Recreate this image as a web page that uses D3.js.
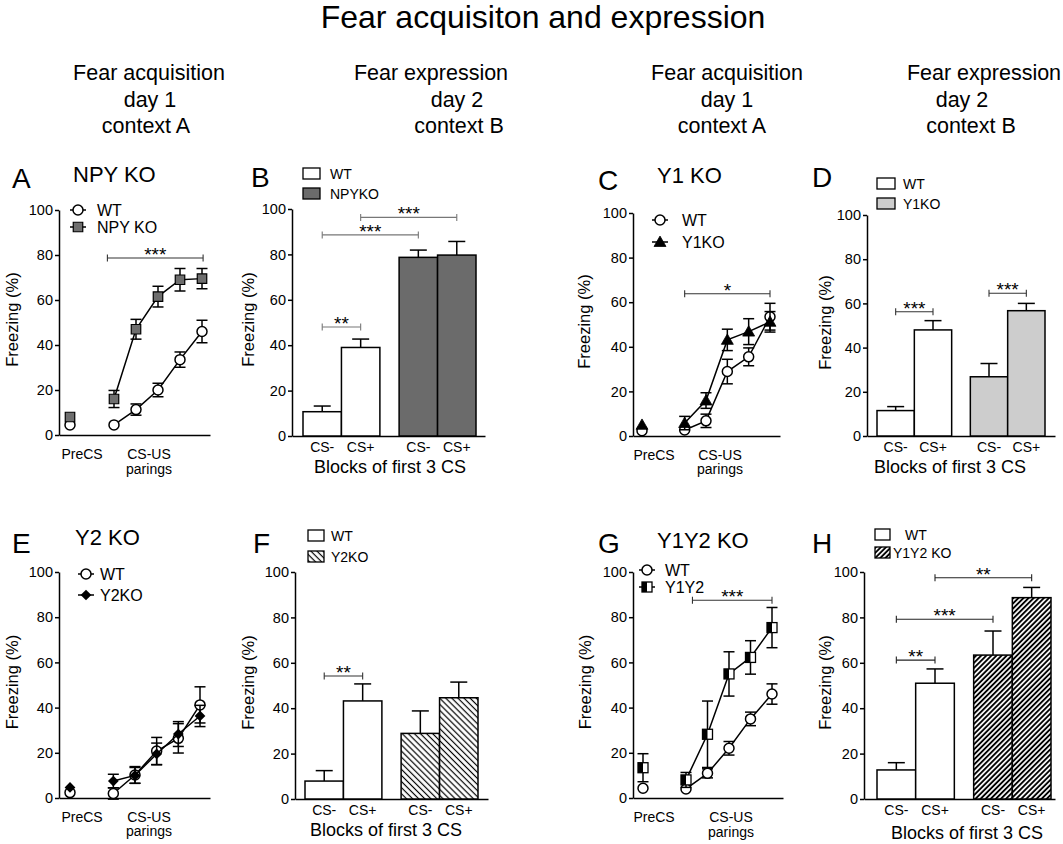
<!DOCTYPE html>
<html><head><meta charset="utf-8">
<script src="https://cdn.jsdelivr.net/npm/d3@7"></script>
<style>
body{margin:0;background:#fff}
svg{display:block}
</style>
</head><body>
<svg id="chart" width="1063" height="844"></svg>
<script>
// ================= DATA =================
const mainTitle = "Fear acquisiton and expression";
const headerAcq = ["Fear acquisition", "day 1", "context A"];
const headerExp = ["Fear expression", "day 2", "context B"];
const yTicks = [0, 20, 40, 60, 80, 100];
const yLabel = "Freezing (%)";
const preLabel = "PreCS";
const csusLabel = ["CS-US", "parings"];
const barCategories = ["CS-", "CS+"];
const barXLabel = "Blocks of first 3 CS";
const trialIndex = [0, 2, 3, 4, 5, 6]; // PreCS, then CS-US pairings 1..5

// Panel A: NPY KO (acquisition)
const A_names = ["WT", "NPY KO"];
const A_wt = [4.5, 4.5, 11.3, 20, 33.5, 46];
const A_wtErr = [0, 0, 2.5, 3, 3.4, 5];
const A_ko = [8, 16, 47, 61.5, 69, 69.5];
const A_koErr = [0, 3.8, 4.4, 4.6, 5, 4.5];
const A_sig = [[1.7, 6.05, 78.7, "***"]];

// Panel B: NPY KO (expression)
const B_names = ["WT", "NPYKO"];
const B_wt = [10.7, 39];
const B_wtErr = [2.5, 3.7];
const B_ko = [78.7, 79.7];
const B_koErr = [3.2, 6];
const B_sig = [[0, 1, 48, "**"], [0, 2, 88.6, "***"], [1, 3, 96.3, "***"]];

// Panel C: Y1 KO (acquisition)
const C_names = ["WT", "Y1KO"];
const C_wt = [2.4, 2.7, 6.8, 28.9, 35.5, 53.5];
const C_wtErr = [0, 0, 3, 5.5, 4, 6];
const C_ko = [5, 5.8, 15.9, 43.1, 46.8, 51.2];
const C_koErr = [0, 3, 3.5, 4.8, 5.8, 4.6];
const C_sig = [[2, 6, 63.8, "*"]];

// Panel D: Y1 KO (expression)
const D_names = ["WT", "Y1KO"];
const D_wt = [11.5, 48];
const D_wtErr = [1.8, 4.2];
const D_ko = [26.8, 56.7];
const D_koErr = [6, 3.3];
const D_sig = [[0, 1, 56.2, "***"], [2, 3, 64.6, "***"]];

// Panel E: Y2 KO (acquisition)
const E_names = ["WT", "Y2KO"];
const E_wt = [2.4, 2, 10.2, 20.8, 26.4, 41.2];
const E_wtErr = [0, 2.5, 3.7, 6, 6.5, 8];
const E_ko = [4.7, 7.5, 10, 19.5, 28.3, 36.3];
const E_koErr = [0, 3, 3.5, 4.8, 5.5, 4.7];
const E_sig = [];

// Panel F: Y2 KO (expression)
const F_names = ["WT", "Y2KO"];
const F_wt = [7.9, 43.2];
const F_wtErr = [4.6, 7.5];
const F_ko = [28.9, 44.6];
const F_koErr = [9.9, 6.9];
const F_sig = [[0, 1, 54.2, "**"]];

// Panel G: Y1Y2 KO (acquisition)
const G_names = ["WT", "Y1Y2"];
const G_wt = [4.3, 4, 10.9, 22, 35, 46];
const G_wtErr = [0, 0, 2, 3, 3, 4.5];
const G_ko = [13.4, 8, 28.2, 54.9, 62.2, 75.4];
const G_koErr = [6.2, 3.3, 14.7, 9.8, 7.4, 8.9];
const G_sig = [[2.3, 6, 87.5, "***"]];

// Panel H: Y1Y2 KO (expression)
const H_names = ["WT", "Y1Y2 KO"];
const H_wt = [12.8, 51];
const H_wtErr = [3.2, 6.3];
const H_ko = [63.4, 88.7];
const H_koErr = [10.6, 4.5];
const H_sig = [[0, 1, 61.2, "**"], [0, 2, 79.2, "***"], [1, 3, 97.5, "**"]];

// ================= DRAWING =================
const FONT = "'Liberation Sans', Arial, Helvetica, sans-serif";
const svg = d3.select("#chart").attr("font-family", FONT);

const defs = svg.append("defs");
const pF = defs.append("pattern").attr("id", "hatchF").attr("patternUnits", "userSpaceOnUse")
  .attr("width", 4.3).attr("height", 4.3).attr("patternTransform", "rotate(-45)");
pF.append("rect").attr("width", 4.3).attr("height", 4.3).attr("fill", "#fff");
pF.append("line").attr("x1", 2.15).attr("x2", 2.15).attr("y1", -1).attr("y2", 6).attr("stroke", "#000").attr("stroke-width", 1.2);
const pH = defs.append("pattern").attr("id", "hatchH").attr("patternUnits", "userSpaceOnUse")
  .attr("width", 3.6).attr("height", 3.6).attr("patternTransform", "rotate(45)");
pH.append("rect").attr("width", 3.6).attr("height", 3.6).attr("fill", "#fff");
pH.append("line").attr("x1", 1.8).attr("x2", 1.8).attr("y1", -1).attr("y2", 5).attr("stroke", "#000").attr("stroke-width", 1.9);

function txt(x, y, s, size, anchor) {
  return svg.append("text").attr("x", x).attr("y", y).attr("font-size", size)
    .attr("text-anchor", anchor || "start").attr("fill", "#000").text(s);
}

// main title and column headers
txt(543, 28, mainTitle, 32, "middle");
const headerLayout = [
  { lines: headerAcq, xs: [149, 150, 146] },
  { lines: headerExp, xs: [431, 457, 459] },
  { lines: headerAcq, xs: [727, 727, 722] },
  { lines: headerExp, xs: [984, 962, 971] }
];
const headerYs = [80, 107, 133];
headerLayout.forEach(h => h.lines.forEach((l, i) => txt(h.xs[i], headerYs[i], l, 21.5, "middle")));

function styleAxis(g) {
  g.attr("font-family", FONT).attr("font-size", 14);
  g.select(".domain").attr("stroke-width", 1.5).attr("stroke", "#000");
  g.selectAll(".tick line").attr("stroke-width", 1.5).attr("stroke", "#000");
  g.selectAll(".tick text").attr("fill", "#000").attr("font-size", 14.5).attr("font-family", FONT);
}

function yAxis(L, y) {
  const g = svg.append("g").attr("transform", `translate(${L.x0},0)`)
    .call(d3.axisLeft(y).tickValues(yTicks).tickSize(4).tickSizeOuter(0).tickPadding(2));
  styleAxis(g);
  const xr = d3.scaleLinear().domain([0, 1]).range([L.x0, L.x1]);
  const b = svg.append("g").attr("transform", `translate(0,${L.y0})`)
    .call(d3.axisBottom(xr).tickValues([]).tickSizeOuter(0));
  styleAxis(b);
  svg.append("text").attr("transform", `translate(${L.ylabX},${(L.y0 + L.y100) / 2 - 3}) rotate(-90)`)
    .attr("text-anchor", "middle").attr("dominant-baseline", "central")
    .attr("font-size", 16.5).attr("fill", "#000").text(yLabel);
}

function sigBracket(xa, xb, yy, label, color) {
  const g = svg.append("g").attr("stroke", color).attr("stroke-width", 1.1);
  g.append("line").attr("x1", xa).attr("x2", xb).attr("y1", yy).attr("y2", yy);
  g.append("line").attr("x1", xa).attr("x2", xa).attr("y1", yy - 3.5).attr("y2", yy + 3.5);
  g.append("line").attr("x1", xb).attr("x2", xb).attr("y1", yy - 3.5).attr("y2", yy + 3.5);
  txt((xa + xb) / 2, yy + 3, label, 19, "middle");
}

const diamondType = {
  draw(ctx, size) {
    const r = Math.sqrt(size) * 0.6;
    ctx.moveTo(0, -r); ctx.lineTo(r, 0); ctx.lineTo(0, r); ctx.lineTo(-r, 0); ctx.closePath();
  }
};

function marker(type, cx, cy, fill) {
  if (type === "circle") {
    svg.append("circle").attr("cx", cx).attr("cy", cy).attr("r", 5)
      .attr("fill", "#fff").attr("stroke", "#000").attr("stroke-width", 1.5);
  } else if (type === "square") {
    svg.append("path").attr("transform", `translate(${cx},${cy})`)
      .attr("d", d3.symbol(d3.symbolSquare, 90)()).attr("fill", fill).attr("stroke", "#000").attr("stroke-width", 1.2);
  } else if (type === "triangle") {
    svg.append("path").attr("transform", `translate(${cx},${cy + 1})`)
      .attr("d", d3.symbol(d3.symbolTriangle, 62)()).attr("fill", "#000").attr("stroke", "#000").attr("stroke-width", 0.8);
  } else if (type === "diamond") {
    svg.append("path").attr("transform", `translate(${cx},${cy})`)
      .attr("d", d3.symbol(diamondType, 80)()).attr("fill", "#000");
  } else if (type === "half") {
    svg.append("rect").attr("x", cx - 5).attr("y", cy - 5).attr("width", 10).attr("height", 10)
      .attr("fill", "#fff").attr("stroke", "#000").attr("stroke-width", 1.3);
    svg.append("rect").attr("x", cx - 5).attr("y", cy - 5).attr("width", 5).attr("height", 10)
      .attr("fill", "#000");
  }
}

function linePanel(L, D) {
  const x = d3.scaleLinear().domain([0, 6]).range([L.preX, L.lastX]);
  const y = d3.scaleLinear().domain([0, 100]).range([L.y0, L.y100]);
  yAxis(L, y);
  txt(L.letter[0], L.letter[1], D.letter, 28);
  txt(L.title[0], L.title[1], D.title, 22);
  txt(L.lab.pre, L.lab.y1, preLabel, 14, "middle");
  txt(L.lab.cs, L.lab.y1, csusLabel[0], 14, "middle");
  txt(L.lab.cs, L.lab.y2, csusLabel[1], 14, "middle");

  const series = [
    { vals: D.wt, errs: D.wtErr, type: "circle", fill: "#fff" },
    { vals: D.ko, errs: D.koErr, type: D.koType, fill: D.koFill }
  ];
  series.forEach(s => {
    const pts = trialIndex.map((t, i) => ({ x: x(t), v: s.vals[i], e: s.errs[i] }));
    svg.append("path").datum(pts.slice(1))
      .attr("d", d3.line().x(p => p.x).y(p => y(p.v)))
      .attr("fill", "none").attr("stroke", "#000").attr("stroke-width", 1.5);
    pts.forEach(p => {
      if (p.e > 0) {
        const g = svg.append("g").attr("stroke", "#000").attr("stroke-width", 1.5);
        g.append("line").attr("x1", p.x).attr("x2", p.x).attr("y1", y(p.v - p.e)).attr("y2", y(p.v + p.e));
        [p.v - p.e, p.v + p.e].forEach(v => g.append("line").attr("x1", p.x - 5.5).attr("x2", p.x + 5.5)
          .attr("y1", y(v)).attr("y2", y(v)));
      }
    });
    pts.forEach(p => marker(s.type, p.x, y(p.v), s.fill));
  });

  D.sig.forEach(s => sigBracket(x(s[0]), x(s[1]), y(s[2]), s[3], "#333"));

  // legend
  series.forEach((s, i) => {
    const ly = L.leg.y[i];
    svg.append("line").attr("x1", L.leg.x - 8).attr("x2", L.leg.x + 8).attr("y1", ly).attr("y2", ly)
      .attr("stroke", "#000").attr("stroke-width", 1.5);
    marker(s.type, L.leg.x, ly, s.fill);
    txt(L.leg.tx, ly, D.names[i], 16).attr("dy", "0.36em");
  });
}

function barPanel(L, D) {
  const y = d3.scaleLinear().domain([0, 100]).range([L.y0, L.y100]);
  yAxis(L, y);
  txt(L.letter[0], L.letter[1], D.letter, 28);
  const gx = d3.scaleBand().domain(D.names).range([L.b0, L.b1]).paddingInner(0.2).paddingOuter(0);
  const cx = d3.scaleBand().domain(barCategories).range([0, gx.bandwidth()]).padding(0);
  const groups = [
    { name: D.names[0], vals: D.wt, errs: D.wtErr, fill: "#fff" },
    { name: D.names[1], vals: D.ko, errs: D.koErr, fill: D.koFill }
  ];
  const centers = [];
  groups.forEach(gr => {
    barCategories.forEach((c, ci) => {
      const bx = gx(gr.name) + cx(c);
      const v = gr.vals[ci], e = gr.errs[ci];
      const mid = bx + cx.bandwidth() / 2;
      centers.push(mid);
      const eg = svg.append("g").attr("stroke", "#000").attr("stroke-width", 1.5);
      eg.append("line").attr("x1", mid).attr("x2", mid).attr("y1", y(v)).attr("y2", y(v + e));
      eg.append("line").attr("x1", mid - 8.5).attr("x2", mid + 8.5).attr("y1", y(v + e)).attr("y2", y(v + e));
      svg.append("rect").attr("x", bx).attr("y", y(v)).attr("width", cx.bandwidth()).attr("height", y(0) - y(v))
        .attr("fill", gr.fill).attr("stroke", "#000").attr("stroke-width", 1.5);
      txt(mid, L.catY, c, 14, "middle");
    });
  });
  txt(L.xlabX, L.xlabY, barXLabel, 18, "middle");
  D.sig.forEach(s => sigBracket(centers[s[0]], centers[s[1]], y(s[2]), s[3], D.sigColor));
  // legend
  groups.forEach((gr, i) => {
    const by = L.leg.by[i];
    svg.append("rect").attr("x", L.leg.bx).attr("y", by).attr("width", L.leg.bw).attr("height", 11)
      .attr("fill", gr.fill).attr("stroke", "#000").attr("stroke-width", 1.3);
    txt(L.leg.tx[i], by + 5.5, gr.name, 14).attr("dy", "0.36em");
  });
}

linePanel(
  { x0: 59, x1: 210, y0: 435, y100: 210, preX: 70, lastX: 202, letter: [12, 188], title: [73, 182], ylabX: 12,
    leg: { x: 78, tx: 97, y: [210, 227] }, lab: { pre: 82, cs: 149, y1: 459, y2: 474 } },
  { letter: "A", title: "NPY KO", names: A_names, wt: A_wt, wtErr: A_wtErr, ko: A_ko, koErr: A_koErr,
    koType: "square", koFill: "#6e6e6e", sig: A_sig });

barPanel(
  { x0: 292, x1: 485, y0: 436, y100: 209, b0: 303, b1: 476, letter: [251, 187], ylabX: 248,
    leg: { bx: 303, bw: 17, by: [168, 188], tx: [330, 330] }, catY: 452, xlabY: 473, xlabX: 390 },
  { letter: "B", names: B_names, wt: B_wt, wtErr: B_wtErr, ko: B_ko, koErr: B_koErr, koFill: "#6b6b6b",
    sig: B_sig, sigColor: "#777" });

linePanel(
  { x0: 633, x1: 780, y0: 436, y100: 213, preX: 642, lastX: 770, letter: [598, 190], title: [657, 183], ylabX: 584,
    leg: { x: 660, tx: 682, y: [220, 242] }, lab: { pre: 654, cs: 720, y1: 460, y2: 474 } },
  { letter: "C", title: "Y1 KO", names: C_names, wt: C_wt, wtErr: C_wtErr, ko: C_ko, koErr: C_koErr,
    koType: "triangle", koFill: "#000", sig: C_sig });

barPanel(
  { x0: 867, x1: 1055, y0: 436, y100: 215, b0: 877, b1: 1045, letter: [812, 187], ylabX: 825,
    leg: { bx: 877, bw: 18, by: [178, 198], tx: [903, 903] }, catY: 452, xlabY: 473, xlabX: 950 },
  { letter: "D", names: D_names, wt: D_wt, wtErr: D_wtErr, ko: D_ko, koErr: D_koErr, koFill: "#cdcdcd",
    sig: D_sig, sigColor: "#333" });

linePanel(
  { x0: 59, x1: 210, y0: 798, y100: 572, preX: 70, lastX: 200, letter: [12, 553], title: [75, 545], ylabX: 12,
    leg: { x: 86, tx: 100, y: [574, 595] }, lab: { pre: 82, cs: 149, y1: 822, y2: 836 } },
  { letter: "E", title: "Y2 KO", names: E_names, wt: E_wt, wtErr: E_wtErr, ko: E_ko, koErr: E_koErr,
    koType: "diamond", koFill: "#000", sig: E_sig });

barPanel(
  { x0: 295, x1: 488, y0: 799, y100: 572, b0: 305, b1: 478, letter: [253, 553], ylabX: 248,
    leg: { bx: 308, bw: 16, by: [530, 551], tx: [331, 331] }, catY: 815, xlabY: 836, xlabX: 386 },
  { letter: "F", names: F_names, wt: F_wt, wtErr: F_wtErr, ko: F_ko, koErr: F_koErr, koFill: "url(#hatchF)",
    sig: F_sig, sigColor: "#333" });

linePanel(
  { x0: 633, x1: 783, y0: 798, y100: 572, preX: 643, lastX: 772, letter: [598, 553], title: [657, 548], ylabX: 585,
    leg: { x: 647, tx: 665, y: [570, 587] }, lab: { pre: 654, cs: 731, y1: 822, y2: 837 } },
  { letter: "G", title: "Y1Y2 KO", names: G_names, wt: G_wt, wtErr: G_wtErr, ko: G_ko, koErr: G_koErr,
    koType: "half", koFill: "#000", sig: G_sig });

barPanel(
  { x0: 864, x1: 1055, y0: 799, y100: 572, b0: 877, b1: 1051, letter: [812, 553], ylabX: 825,
    leg: { bx: 875, bw: 15, by: [529, 547], tx: [905, 893] }, catY: 815, xlabY: 839, xlabX: 967 },
  { letter: "H", names: H_names, wt: H_wt, wtErr: H_wtErr, ko: H_ko, koErr: H_koErr, koFill: "url(#hatchH)",
    sig: H_sig, sigColor: "#222" });
</script>
</body></html>
